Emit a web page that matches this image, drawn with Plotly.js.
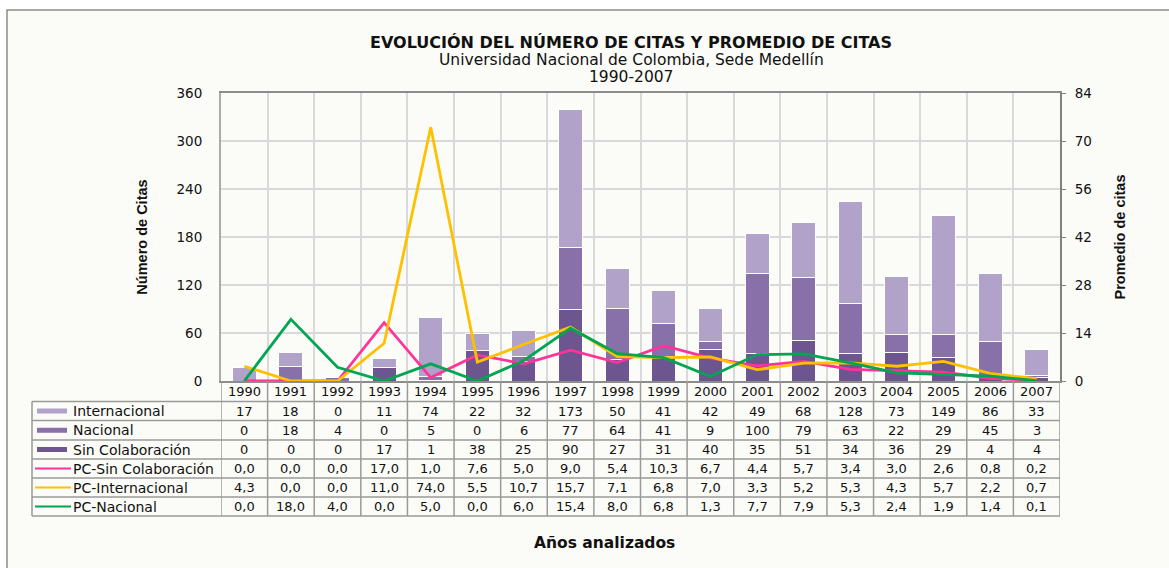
<!DOCTYPE html>
<html>
<head>
<meta charset="utf-8">
<script src="https://cdn.plot.ly/plotly-3.0.1.min.js"></script>
<style>
html,body{margin:0;padding:0;background:#ffffff;}
#chart{width:1169px;height:568px;}
</style>
</head>
<body>
<div id="chart"></div>
<script>
// ---- Data ----
const years = ["1990","1991","1992","1993","1994","1995","1996","1997","1998","1999","2000","2001","2002","2003","2004","2005","2006","2007"];
const internacional = [17,18,0,11,74,22,32,173,50,41,42,49,68,128,73,149,86,33];
const nacional = [0,18,4,0,5,0,6,77,64,41,9,100,79,63,22,29,45,3];
const sinColaboracion = [0,0,0,17,1,38,25,90,27,31,40,35,51,34,36,29,4,4];
const pcSinColaboracion = [0.0,0.0,0.0,17.0,1.0,7.6,5.0,9.0,5.4,10.3,6.7,4.4,5.7,3.4,3.0,2.6,0.8,0.2];
const pcInternacional = [4.3,0.0,0.0,11.0,74.0,5.5,10.7,15.7,7.1,6.8,7.0,3.3,5.2,5.3,4.3,5.7,2.2,0.7];
const pcNacional = [0.0,18.0,4.0,0.0,5.0,0.0,6.0,15.4,8.0,6.8,1.3,7.7,7.9,5.3,2.4,1.9,1.4,0.1];
const seriesNames = ["Internacional","Nacional","Sin Colaboración","PC-Sin Colaboración","PC-Internacional","PC-Nacional"];

// ---- Styles ----
const C_INT = "#b1a2c9", C_NAC = "#8870a8", C_SIN = "#6d5590";
const C_PCSIN = "#ff3399", C_PCINT = "#ffc000", C_PCNAC = "#00a651";
const FONT = "DejaVu Sans, Verdana, sans-serif";
const FONT_T = "Liberation Sans, Arial, sans-serif";
const W = 1169, H = 568;
const L = 221, R = 1060, T = 93, B = 381;
const PW = R - L, PH = B - T;
const px = p => (p - L) / PW;      // pixel x -> paper x
const py = p => (B - p) / PH;      // pixel y -> paper y

const traces = [
  {type:"bar", name:seriesNames[2], x:years, y:sinColaboracion, marker:{color:C_SIN, line:{color:"#ffffff", width:1}}, hoverinfo:"x+y+name"},
  {type:"bar", name:seriesNames[1], x:years, y:nacional, marker:{color:C_NAC, line:{color:"#ffffff", width:1}}, hoverinfo:"x+y+name"},
  {type:"bar", name:seriesNames[0], x:years, y:internacional, marker:{color:C_INT, line:{color:"#ffffff", width:1}}, hoverinfo:"x+y+name"},
  {type:"scatter", mode:"lines", name:seriesNames[3], x:years, y:pcSinColaboracion, yaxis:"y2", line:{color:C_PCSIN, width:2.8}},
  {type:"scatter", mode:"lines", name:seriesNames[4], x:years, y:pcInternacional, yaxis:"y2", line:{color:C_PCINT, width:2.8}},
  {type:"scatter", mode:"lines", name:seriesNames[5], x:years, y:pcNacional, yaxis:"y2", line:{color:C_PCNAC, width:2.8}}
];

const shapes = [];
const annotations = [];
const LINE_C = "#9a9a9a";

// outer frame
shapes.push({type:"rect", xref:"paper", yref:"paper", x0:px(7), x1:px(1185), y0:py(10), y1:py(590),
  fillcolor:"#fbfbf7", line:{color:"#8c8c8c", width:1.5}, layer:"below"});

// table geometry (pixel rows)
const rowEdges = [401.5, 420.5, 440, 459, 478, 497, 516];
const headerMid = (B + rowEdges[0]) / 2;
// horizontal table lines
rowEdges.forEach(yy => {
  shapes.push({type:"line", xref:"paper", yref:"paper", x0:px(32), x1:1, y0:py(yy), y1:py(yy), line:{color:LINE_C, width:1.5}});
});
// left border of table
shapes.push({type:"line", xref:"paper", yref:"paper", x0:px(32), x1:px(32), y0:py(rowEdges[0]), y1:py(rowEdges[6]), line:{color:LINE_C, width:1.5}});
// vertical column lines at category boundaries (category index scale of the x axis)
for (let i = 0; i <= years.length; i++) {
  shapes.push({type:"line", xref:"x", yref:"paper", x0:i - 0.5, x1:i - 0.5, y0:0, y1:py(rowEdges[6]), line:{color:LINE_C, width:1.5}});
}

// year header (x given as category index)
years.forEach((yr, i) => {
  annotations.push({xref:"x", yref:"paper", x:i, y:py(headerMid), text:yr, showarrow:false,
    xanchor:"center", yanchor:"middle", font:{family:FONT, size:13, color:"#111"}});
});

const fmtInt = v => String(v);
const fmtDec = v => v.toFixed(1).replace(".", ",");
const tableRows = [
  {name:seriesNames[0], vals:internacional, fmt:fmtInt, kind:"bar", color:C_INT},
  {name:seriesNames[1], vals:nacional, fmt:fmtInt, kind:"bar", color:C_NAC},
  {name:seriesNames[2], vals:sinColaboracion, fmt:fmtInt, kind:"bar", color:C_SIN},
  {name:seriesNames[3], vals:pcSinColaboracion, fmt:fmtDec, kind:"line", color:C_PCSIN},
  {name:seriesNames[4], vals:pcInternacional, fmt:fmtDec, kind:"line", color:C_PCINT},
  {name:seriesNames[5], vals:pcNacional, fmt:fmtDec, kind:"line", color:C_PCNAC}
];
tableRows.forEach((row, r) => {
  const mid = (rowEdges[r] + rowEdges[r + 1]) / 2;
  if (row.kind === "bar") {
    shapes.push({type:"rect", xref:"paper", yref:"paper", x0:px(37), x1:px(67), y0:py(mid + 2.5), y1:py(mid - 2.5),
      fillcolor:row.color, line:{width:0}});
  } else {
    shapes.push({type:"line", xref:"paper", yref:"paper", x0:px(35), x1:px(71), y0:py(mid), y1:py(mid),
      line:{color:row.color, width:2}});
  }
  annotations.push({xref:"paper", yref:"paper", x:px(71), y:py(mid), text:row.name, showarrow:false,
    xanchor:"left", yanchor:"middle", font:{family:FONT, size:14, color:"#111"}});
  row.vals.forEach((v, i) => {
    annotations.push({xref:"x", yref:"paper", x:i, y:py(mid), text:row.fmt(v), showarrow:false,
      xanchor:"center", yanchor:"middle", font:{family:FONT, size:13, color:"#111"}});
  });
});

// subtitles
annotations.push({xref:"paper", yref:"paper", x:px(631), y:py(60), text:"Universidad Nacional de Colombia, Sede Medellín",
  showarrow:false, xanchor:"center", yanchor:"middle", font:{family:FONT, size:15.5, color:"#111"}});
annotations.push({xref:"paper", yref:"paper", x:px(631), y:py(77), text:"1990-2007",
  showarrow:false, xanchor:"center", yanchor:"middle", font:{family:FONT, size:15.5, color:"#111"}});
// x axis title
annotations.push({xref:"paper", yref:"paper", x:px(604), y:py(543), text:"<b>Años analizados</b>",
  showarrow:false, xanchor:"center", yanchor:"middle", font:{family:FONT, size:15.5, color:"#111"}});

const layout = {
  width:W, height:H,
  margin:{l:L, r:W - R, t:T, b:H - B, pad:0},
  paper_bgcolor:"#ffffff",
  plot_bgcolor:"rgba(0,0,0,0)",
  showlegend:false,
  barmode:"stack",
  bargap:0.485,
  title:{text:"<b>EVOLUCIÓN DEL NÚMERO DE CITAS Y PROMEDIO DE CITAS</b>", x:px(631), xanchor:"center",
    y:1 - 42 / H, yanchor:"middle", xref:"paper", font:{family:FONT, size:16, color:"#111"}},
  xaxis:{type:"category", range:[-0.5, years.length - 0.5], autorange:false, tickson:"boundaries",
    showgrid:true, gridcolor:"#d9d9d9", gridwidth:1.5,
    showticklabels:false, ticks:"", showline:true, linecolor:"#8c8c8c", linewidth:1.5, mirror:true,
    fixedrange:true, zeroline:false},
  yaxis:{range:[0,360], autorange:false, dtick:60, tick0:0, showgrid:true, gridcolor:"#d9d9d9", gridwidth:1.5,
    showline:true, linecolor:"#aaaaaa", linewidth:2, ticks:"", ticklabelstandoff:14,
    tickfont:{family:FONT, size:13.5, color:"#111"}, zeroline:false, fixedrange:true,
    title:{text:"<b>Número de Citas</b>", standoff:25, font:{family:FONT_T, size:14.5, color:"#111"}}},
  yaxis2:{range:[0,84], autorange:false, dtick:14, tick0:0, overlaying:"y", side:"right", showgrid:false,
    showline:true, linecolor:"#808080", linewidth:2, ticks:"outside", ticklen:4, tickcolor:"#808080",
    ticklabelstandoff:6, tickfont:{family:FONT, size:13.5, color:"#111"}, zeroline:false, fixedrange:true,
    title:{text:"<b>Promedio de citas</b>", standoff:24, font:{family:FONT_T, size:14.5, color:"#111"}}},
  shapes:shapes,
  annotations:annotations
};

Plotly.newPlot("chart", traces, layout, {displayModeBar:false});
</script>
</body>
</html>
